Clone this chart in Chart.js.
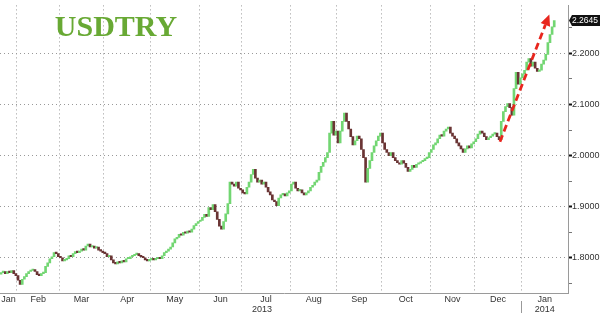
<!DOCTYPE html>
<html>
<head>
<meta charset="utf-8">
<script src="https://cdn.jsdelivr.net/npm/chart.js@4/dist/chart.umd.min.js"></script>
<style>
  html, body { margin: 0; padding: 0; background: #fff; }
</style>
</head>
<body>
<canvas id="chartcanvas" width="600" height="313"></canvas>
<script>
// daily USDTRY closes, one array per month (weekdays)
const jan13 = [1.771, 1.773, 1.769, 1.773, 1.771, 1.775, 1.769, 1.765];
const feb13 = [1.756, 1.748, 1.758, 1.763, 1.769, 1.773, 1.775, 1.777, 1.773, 1.767,
               1.765, 1.769, 1.771, 1.783, 1.790, 1.798, 1.802, 1.810, 1.808, 1.802];
const mar13 = [1.800, 1.794, 1.796, 1.798, 1.804, 1.802, 1.808, 1.812, 1.810, 1.813,
               1.817, 1.815, 1.823, 1.827, 1.821, 1.823, 1.819, 1.821, 1.815, 1.813, 1.810];
const apr13 = [1.808, 1.802, 1.804, 1.796, 1.790, 1.788, 1.792, 1.790, 1.794, 1.792, 1.798,
               1.798, 1.802, 1.804, 1.806, 1.808, 1.804, 1.802, 1.800, 1.796, 1.794, 1.796];
const may13 = [1.798, 1.796, 1.798, 1.800, 1.798, 1.804, 1.810, 1.813, 1.817, 1.821, 1.829, 1.837,
               1.840, 1.846, 1.844, 1.850, 1.848, 1.852, 1.850, 1.856, 1.863, 1.867, 1.871];
const jun13 = [1.873, 1.879, 1.885, 1.881, 1.898, 1.894, 1.904, 1.890, 1.875, 1.862,
               1.856, 1.871, 1.886, 1.906, 1.948, 1.944, 1.940, 1.948, 1.936, 1.933];
const jul13 = [1.927, 1.925, 1.938, 1.948, 1.963, 1.973, 1.956, 1.948, 1.952, 1.944, 1.948, 1.938,
               1.929, 1.923, 1.913, 1.910, 1.902, 1.917, 1.923, 1.925, 1.921, 1.927, 1.931];
const aug13 = [1.944, 1.948, 1.936, 1.931, 1.933, 1.927, 1.923, 1.927, 1.931, 1.938, 1.942,
               1.948, 1.952, 1.967, 1.979, 1.987, 1.996, 2.006, 2.044, 2.067, 2.040, 2.048];
const sep13 = [2.025, 2.048, 2.067, 2.083, 2.067, 2.052, 2.037, 2.021, 2.029, 2.038, 2.033,
               2.012, 1.996, 1.948, 1.975, 1.990, 2.006, 2.019, 2.029, 2.038, 2.044];
const oct13 = [2.025, 2.012, 2.006, 2.000, 2.006, 1.996, 1.990, 1.986, 1.983, 1.990, 1.985, 1.977,
               1.969, 1.973, 1.981, 1.977, 1.983, 1.985, 1.988, 1.990, 1.994, 1.996, 2.006];
const nov13 = [2.012, 2.021, 2.025, 2.033, 2.040, 2.038, 2.048, 2.052, 2.056, 2.044, 2.038,
               2.033, 2.025, 2.019, 2.013, 2.006, 2.013, 2.019, 2.015, 2.023, 2.027];
const dec13 = [2.033, 2.042, 2.048, 2.044, 2.037, 2.031, 2.035, 2.038, 2.042, 2.044, 2.037,
               2.031, 2.067, 2.086, 2.096, 2.102, 2.094, 2.079, 2.131, 2.163, 2.140, 2.152];
const jan14 = [2.160, 2.167, 2.183, 2.190, 2.175, 2.183, 2.171, 2.165, 2.167, 2.179, 2.187,
               2.198, 2.221, 2.237, 2.252, 2.2645];
const firstOpen = 1.768;

const monthData = [jan13, feb13, mar13, apr13, may13, jun13, jul13, aug13, sep13, oct13, nov13, dec13, jan14];
const monthLabels = ['Jan', 'Feb', 'Mar', 'Apr', 'May', 'Jun', 'Jul', 'Aug', 'Sep', 'Oct', 'Nov', 'Dec', 'Jan'];
const yearLabels = [{month: 6, text: '2013'}, {month: 12, text: '2014'}];
const yTickValues = [1.75, 1.80, 1.85, 1.90, 1.95, 2.00, 2.05, 2.10, 2.15, 2.20, 2.25];
const yMajorTicks = [1.80, 1.90, 2.00, 2.10, 2.20];

// trend arrow, in (day index, price)
const arrowFrom = {x: 235.4, y: 2.027};
const arrowTo = {x: 258.7, y: 2.276};

const upColor = '#72d672';
const downColor = '#6a3434';

const closes = [].concat(...monthData);
const candles = closes.map((c, i) => ({x: i, y: [i === 0 ? firstOpen : closes[i - 1], c]}));
const candleColors = candles.map(d => d.y[1] >= d.y[0] ? upColor : downColor);

// month boundaries on the weekday axis
const monthStarts = [];
let count = 0;
monthData.forEach(m => { monthStarts.push(count - 0.5); count += m.length; });
const xMin = -0.5;
const xMax = 267.5;

function isMajor(v) {
  return yMajorTicks.some(t => Math.abs(t - v) < 1e-6);
}

const overlay = {
  id: 'overlay',
  afterDraw(chart) {
    const ctx = chart.ctx;
    const xs = chart.scales.x;
    const ys = chart.scales.y;
    const area = chart.chartArea;

    // title
    ctx.save();
    ctx.font = 'bold 30px "Liberation Serif", "DejaVu Serif", serif';
    ctx.fillStyle = '#68a934';
    ctx.textAlign = 'center';
    ctx.textBaseline = 'alphabetic';
    ctx.fillText('USDTRY', 116, 36);
    ctx.restore();

    // trend arrow
    const x1 = xs.getPixelForValue(arrowFrom.x), y1 = ys.getPixelForValue(arrowFrom.y);
    const x2 = xs.getPixelForValue(arrowTo.x), y2 = ys.getPixelForValue(arrowTo.y);
    const ang = Math.atan2(y2 - y1, x2 - x1);
    const head = 11;
    const bx = x2 - head * Math.cos(ang), by = y2 - head * Math.sin(ang);
    ctx.save();
    ctx.strokeStyle = '#e8261e';
    ctx.fillStyle = '#e8261e';
    ctx.lineWidth = 2.8;
    ctx.setLineDash([7, 4]);
    ctx.beginPath();
    ctx.moveTo(x1, y1);
    ctx.lineTo(bx, by);
    ctx.stroke();
    ctx.setLineDash([]);
    ctx.beginPath();
    ctx.moveTo(x2, y2);
    ctx.lineTo(bx + 5 * Math.sin(ang), by - 5 * Math.cos(ang));
    ctx.lineTo(bx - 5 * Math.sin(ang), by + 5 * Math.cos(ang));
    ctx.closePath();
    ctx.fill();
    ctx.restore();

    // month labels
    ctx.save();
    ctx.font = '9px "Liberation Sans", Arial, sans-serif';
    ctx.fillStyle = '#333';
    ctx.textAlign = 'center';
    ctx.textBaseline = 'middle';
    const monthPx = monthStarts.map(v => Math.max(area.left, xs.getPixelForValue(v)));
    monthLabels.forEach((lab, i) => {
      const a = monthPx[i];
      const b = i + 1 < monthPx.length ? monthPx[i + 1] : area.right;
      ctx.fillText(lab, (a + b) / 2, area.bottom + 7);
    });
    yearLabels.forEach(y => {
      const a = monthPx[y.month];
      const b = y.month + 1 < monthPx.length ? monthPx[y.month + 1] : area.right;
      ctx.fillText(y.text, (a + b) / 2 - (y.month === 6 ? 4 : 0), area.bottom + 17);
    });
    // year separator
    const sx = Math.round(monthPx[12]) + 0.5;
    ctx.strokeStyle = '#999';
    ctx.lineWidth = 1;
    ctx.beginPath();
    ctx.moveTo(sx, area.bottom + 8);
    ctx.lineTo(sx, chart.height);
    ctx.stroke();
    ctx.restore();

    // last price tag
    const last = closes[closes.length - 1];
    const ly = ys.getPixelForValue(last);
    ctx.save();
    ctx.fillStyle = '#111';
    ctx.beginPath();
    ctx.moveTo(area.right + 1, ly);
    ctx.lineTo(area.right + 4, ly - 5.5);
    ctx.lineTo(chart.width, ly - 5.5);
    ctx.lineTo(chart.width, ly + 5.5);
    ctx.lineTo(area.right + 4, ly + 5.5);
    ctx.closePath();
    ctx.fill();
    ctx.fillStyle = '#fff';
    ctx.font = '8.5px "Liberation Sans", Arial, sans-serif';
    ctx.textAlign = 'left';
    ctx.textBaseline = 'middle';
    ctx.fillText(last.toFixed(4), area.right + 4, ly + 0.5);
    ctx.restore();
  }
};

const ctx = document.getElementById('chartcanvas').getContext('2d');
const chart = new Chart(ctx, {
  type: 'bar',
  data: {
    datasets: [{
      data: candles,
      backgroundColor: candleColors,
      borderWidth: 0,
      barThickness: 2,
      minBarLength: 1.5
    }]
  },
  options: {
    responsive: false,
    devicePixelRatio: 1,
    animation: false,
    layout: { padding: 0 },
    plugins: {
      legend: { display: false },
      tooltip: { enabled: false }
    },
    scales: {
      x: {
        type: 'linear',
        min: xMin,
        max: xMax,
        offset: false,
        afterBuildTicks: s => { s.ticks = monthStarts.slice(1).map(v => ({value: v})); },
        afterFit: s => { s.height = 20; },
        ticks: { display: false },
        grid: {
          offset: false,
          color: '#999',
          lineWidth: 1,
          drawTicks: false
        },
        border: { display: true, color: '#9a9a9a', width: 1, dash: [1, 3] }
      },
      y: {
        type: 'linear',
        position: 'right',
        min: 1.731,
        max: 2.294,
        afterBuildTicks: s => { s.ticks = yTickValues.map(v => ({value: v})); },
        afterFit: s => { s.width = 32; },
        ticks: {
          callback: v => isMajor(v) ? v.toFixed(4) : '',
          font: { family: '"Liberation Sans", Arial, sans-serif', size: 9 },
          color: '#333',
          padding: 0,
          autoSkip: false
        },
        grid: {
          color: c => isMajor(c.tick.value) ? '#999' : 'rgba(0,0,0,0)',
          lineWidth: 1,
          tickLength: 4,
          tickColor: c => isMajor(c.tick.value) ? '#111' : '#777',
          tickWidth: c => isMajor(c.tick.value) ? 2 : 1
        },
        border: { display: true, color: '#9a9a9a', width: 1, dash: [1, 3] }
      }
    }
  },
  plugins: [overlay]
});
</script>
</body>
</html>
